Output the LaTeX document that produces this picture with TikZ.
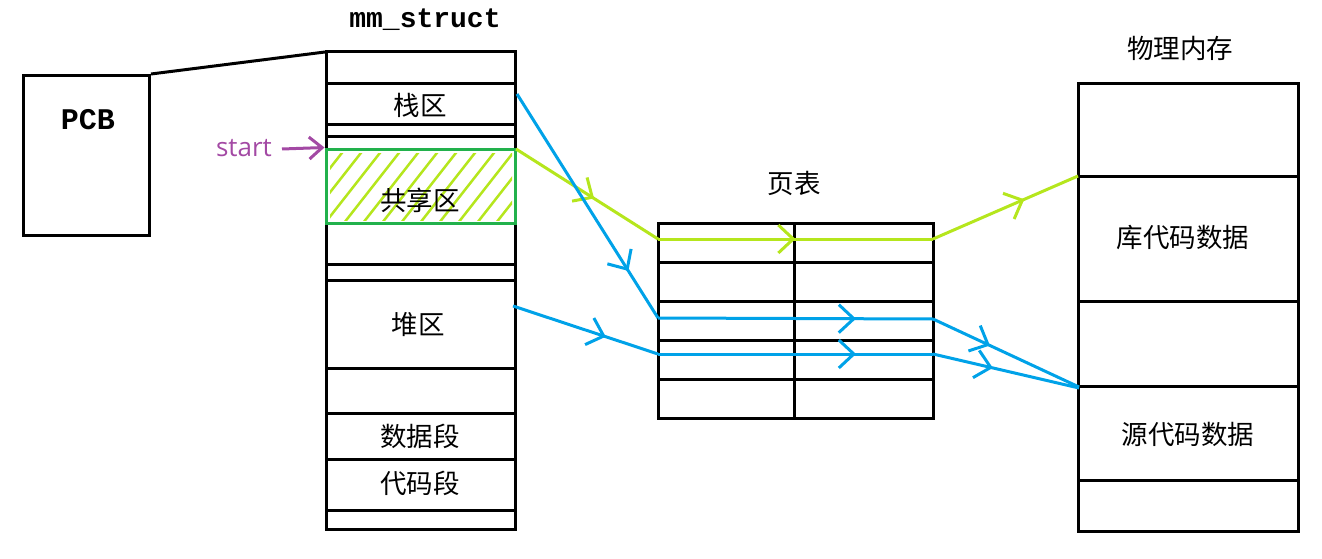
\documentclass[tikz,border=0pt]{standalone}
\usepackage{fontspec}
\setmainfont{Noto Sans CJK SC}
\newfontfamily\monob{Liberation Mono}
\newfontfamily\latinsans{Open Sans}
\usetikzlibrary{arrows.meta,decorations.markings}
\definecolor{plime}{HTML}{B5E61D}
\definecolor{pgreen}{HTML}{22B14C}
\definecolor{pblue}{HTML}{00A2E8}
\definecolor{ppurple}{HTML}{A349A4}
\tikzset{
  cjk/.style={font=\fontsize{26.5}{30}\selectfont, inner sep=0pt},
  mono/.style={font=\monob\bfseries\fontsize{28}{30}\selectfont, inner sep=0pt},
  midarrow/.style={postaction={decorate}, decoration={markings,
      mark=at position #1 with {\arrow{Straight Barb[length=15pt,width=28pt]}}}},
  grline/.style={plime, line width=3pt},
  blline/.style={pblue, line width=3pt},
}
\begin{document}
\begin{tikzpicture}[x=1pt, y=-1pt, line width=3pt]
\useasboundingbox (0,0) rectangle (1322,559);

% PCB
\node[draw, minimum width=126pt, minimum height=160pt, anchor=north west, inner sep=0pt] (pcb) at (22,74) {};
\node[mono, font=\monob\bfseries\fontsize{30}{30}\selectfont] (pcblbl) at (88,120) {PCB};

% mm_struct column
\node[mono] (mmtitle) at (425,20) {mm\_struct};
\coordinate (mmtl) at (325,52);
\draw (326,52) rectangle (515,529);
\foreach \yy in {84,125,137,264,280,368,413,459,510}
  \draw (326,\yy) -- (515,\yy);
\draw (pcb.north east) -- (mmtl);

% shared region with hatch
\begin{scope}
  \clip (330,153) rectangle (512,220);
  \foreach \i in {0,...,15}
    \draw[plime, line width=2.5pt] (268+\i*19,223) -- (326+\i*19,149);
\end{scope}
\node[draw=pgreen, line width=3pt, minimum width=189pt, minimum height=74pt, inner sep=0pt] (shared) at (420.5,186) {};

\node[cjk] (stack) at (420,105) {栈区};
\node[cjk] (sharedlbl) at (420,200) {共享区};
\node[cjk] (heap) at (418,325) {堆区};
\node[cjk] (data) at (420,436) {数据段};
\node[cjk] (code) at (420,483) {代码段};

% start arrow
\node[font=\latinsans\fontsize{26}{30}\selectfont, text=ppurple, inner sep=0pt] (start) at (244,148) {start};
\coordinate (startfrom) at (282,149);
\draw[ppurple, -{Straight Barb[length=13pt,width=22pt]}] (startfrom) -- (shared.north west);

% page table
\node[cjk] (ptlbl) at (794,183) {页表};
\draw (658,223) rectangle (933,418);
\draw (794,223) -- (794,418);
\foreach \yy in {262,301,340,379}
  \draw (658,\yy) -- (933,\yy);

% physical memory
\node[cjk] (pmlbl) at (1180,48) {物理内存};
\draw (1078,84) rectangle (1298,531);
\foreach \yy in {176,301,386,480}
  \draw (1078,\yy) -- (1298,\yy);
\node[cjk] (lib) at (1183,237) {库代码数据};
\node[cjk] (src) at (1188,434) {源代码数据};

% connector coordinates
\coordinate (g1) at (516,149);
\coordinate (g2) at (658,239);
\coordinate (g3) at (933,239);
\coordinate (g4) at (1078,176);
\coordinate (b1a) at (517,94);
\coordinate (b1b) at (658,318);
\coordinate (b1c) at (933,319);
\coordinate (b1d) at (1079,387);
\coordinate (b2a) at (513,306);
\coordinate (b2b) at (658,354);
\coordinate (b2c) at (933,354);
\coordinate (b2d) at (1079,388);

% green path
\draw[grline, midarrow=0.55] (g1) -- (g2);
\draw[grline, midarrow=0.5] (g2) -- (g3);
\draw[grline, midarrow=0.63] (g3) -- (g4);

% blue paths
\draw[blline, midarrow=0.79] (b1a) -- (b1b);
\draw[blline, midarrow=0.72] (b1b) -- (b1c);
\draw[blline, midarrow=0.39] (b1c) -- (b1d);
\draw[blline, midarrow=0.64] (b2a) -- (b2b);
\draw[blline, midarrow=0.72] (b2b) -- (b2c);
\draw[blline, midarrow=0.41] (b2c) -- (b2d);
\end{tikzpicture}
\end{document}
